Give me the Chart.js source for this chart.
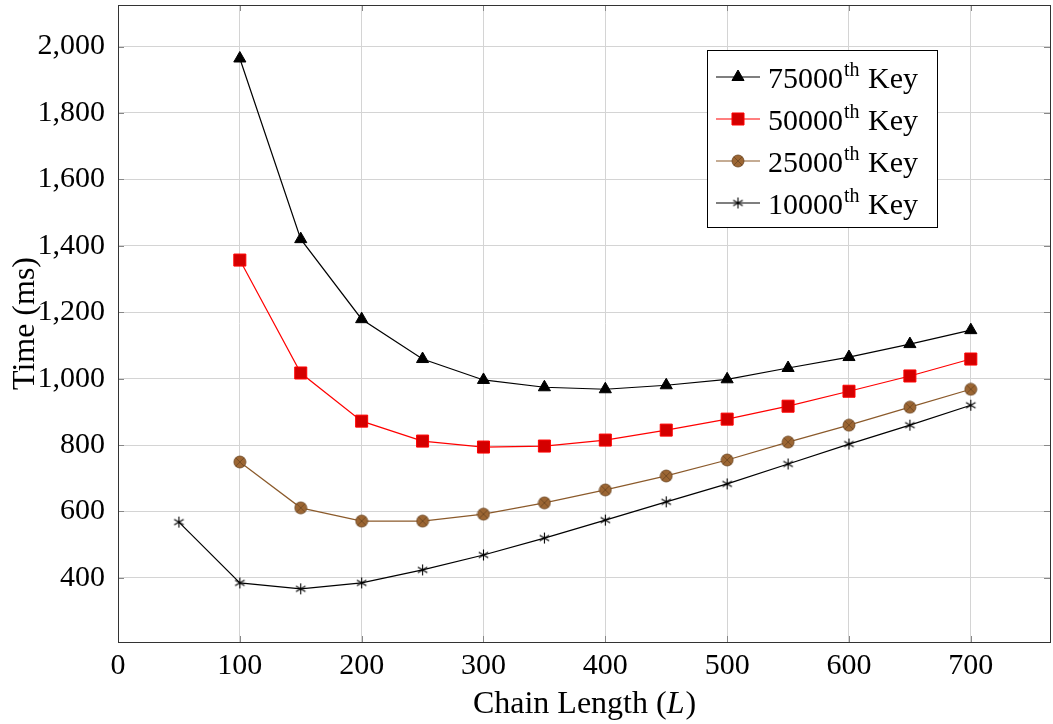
<!DOCTYPE html>
<html>
<head>
<meta charset="utf-8">
<script src="https://cdn.jsdelivr.net/npm/chart.js@4.4.0/dist/chart.umd.min.js"></script>
<style>
  html, body { margin: 0; padding: 0; background: #fff; }
  #wrap { width: 1053px; height: 724px; }
</style>
</head>
<body>
<div id="wrap"><canvas id="myChart" width="1053" height="724"></canvas></div>
<script>
  const chainLengths = [50, 100, 150, 200, 250, 300, 350, 400, 450, 500, 550, 600, 650, 700];
  const keyNames = ['75000', '50000', '25000', '10000'];
  const key75000 = [null, 1964, 1420, 1179, 1059, 996, 974, 968, 980, 998, 1032, 1065, 1104, 1146];
  const key50000 = [null, 1357, 1017, 872, 812, 794, 797, 815, 845, 878, 917, 962, 1008, 1059];
  const key25000 = [null, 749, 611, 571, 571, 592, 626, 665, 707, 755, 809, 860, 914, 968];
  const key10000 = [568, 385, 367, 385, 424, 469, 520, 574, 629, 683, 743, 803, 860, 920];
  const xTicks = [0, 100, 200, 300, 400, 500, 600, 700];
  const yTicks = [400, 600, 800, 1000, 1200, 1400, 1600, 1800, 2000];

  const serif = '"Liberation Serif", "DejaVu Serif", serif';

  // egyedi jelölők: kör x-szel, csillag (*)
  function otimesMark() {
    const c = document.createElement('canvas');
    c.width = 14; c.height = 14;
    const g = c.getContext('2d');
    g.beginPath();
    g.arc(7, 7, 6, 0, Math.PI * 2);
    g.fillStyle = '#9c6633';
    g.fill();
    g.strokeStyle = '#6b4522';
    g.lineWidth = 0.8;
    g.stroke();
    const d = 6 * Math.SQRT1_2;
    g.beginPath();
    g.moveTo(7 - d, 7 - d); g.lineTo(7 + d, 7 + d);
    g.moveTo(7 + d, 7 - d); g.lineTo(7 - d, 7 + d);
    g.stroke();
    return c;
  }
  function starMark() {
    const c = document.createElement('canvas');
    c.width = 13; c.height = 13;
    const g = c.getContext('2d');
    g.strokeStyle = '#000';
    g.lineWidth = 1.1;
    g.beginPath();
    for (let i = 0; i < 3; i++) {
      const a = -Math.PI / 2 + i * Math.PI / 3;
      g.moveTo(6.5 + 5.5 * Math.cos(a), 6.5 + 5.5 * Math.sin(a));
      g.lineTo(6.5 - 5.5 * Math.cos(a), 6.5 - 5.5 * Math.sin(a));
    }
    g.stroke();
    return c;
  }

  const pts = vals => chainLengths.map((x, i) => ({ x: x, y: vals[i] })).filter(p => p.y !== null);

  const datasets = [
    { label: keyNames[0], data: pts(key75000), borderColor: '#000', backgroundColor: '#000',
      pointStyle: 'triangle', pointRadius: 7, borderWidth: 1.2, pointBorderWidth: 1 },
    { label: keyNames[1], data: pts(key50000), borderColor: '#ff0000', backgroundColor: '#d40000',
      pointStyle: 'rect', pointRadius: 8.5, borderWidth: 1.2, pointBorderWidth: 1 },
    { label: keyNames[2], data: pts(key25000), borderColor: '#8b5a2b', backgroundColor: '#9c6633',
      pointStyle: otimesMark(), pointRadius: 7, borderWidth: 1.2 },
    { label: keyNames[3], data: pts(key10000), borderColor: '#000', backgroundColor: '#000',
      pointStyle: starMark(), pointRadius: 6, borderWidth: 1.2 }
  ];
  datasets.forEach(d => { d.fill = false; d.tension = 0; d.pointHoverRadius = d.pointRadius; });

  const boxPlugin = {
    id: 'box',
    afterDraw(chart) {
      const ctx = chart.ctx, a = chart.chartArea;
      const xs = chart.scales.x, ys = chart.scales.y;
      ctx.save();
      // belső osztásjelek
      ctx.strokeStyle = '#888';
      ctx.lineWidth = 1;
      ctx.beginPath();
      xTicks.forEach(v => {
        const px = Math.round(xs.getPixelForValue(v)) + 0.5;
        ctx.moveTo(px, a.bottom); ctx.lineTo(px, a.bottom - 6);
        ctx.moveTo(px, a.top); ctx.lineTo(px, a.top + 6);
      });
      yTicks.forEach(v => {
        const py = Math.round(ys.getPixelForValue(v)) + 0.5;
        ctx.moveTo(a.left, py); ctx.lineTo(a.left + 6, py);
        ctx.moveTo(a.right, py); ctx.lineTo(a.right - 6, py);
      });
      ctx.stroke();
      ctx.strokeStyle = '#333';
      ctx.strokeRect(Math.round(a.left) + 0.5, Math.round(a.top) + 0.5,
        Math.round(a.right - a.left), Math.round(a.bottom - a.top));

      // tengelyfeliratok
      ctx.fillStyle = '#000';
      ctx.textBaseline = 'alphabetic';
      const tf = '32px ' + serif;
      ctx.font = tf;
      const t1 = 'Chain Length (', t2 = 'L', t3 = ')';
      const w1 = ctx.measureText(t1).width, w3 = ctx.measureText(t3).width;
      ctx.font = 'italic ' + tf;
      const w2 = ctx.measureText(t2).width;
      let x0 = (a.left + a.right) / 2 - (w1 + w2 + w3) / 2;
      const by = 713;
      ctx.textAlign = 'left';
      ctx.font = tf;
      ctx.fillText(t1, x0, by);
      ctx.font = 'italic ' + tf;
      ctx.fillText(t2, x0 + w1, by);
      ctx.font = tf;
      ctx.fillText(t3, x0 + w1 + w2 + 1, by);

      ctx.save();
      ctx.translate(34, (a.top + a.bottom) / 2);
      ctx.rotate(-Math.PI / 2);
      ctx.textAlign = 'center';
      ctx.fillText('Time (ms)', 0, 0);
      ctx.restore();

      // jelmagyarázat
      const lx = 707, ly = 50, lw = 230, lh = 177;
      ctx.fillStyle = '#fff';
      ctx.fillRect(lx, ly, lw, lh);
      ctx.strokeStyle = '#000';
      ctx.lineWidth = 1;
      ctx.strokeRect(lx + 0.5, ly + 0.5, lw, lh);
      chart.data.datasets.forEach((ds, i) => {
        const cy = 77 + i * 42;
        ctx.strokeStyle = ds.borderColor;
        ctx.lineWidth = ds.borderWidth;
        ctx.beginPath();
        ctx.moveTo(716, cy); ctx.lineTo(760, cy);
        ctx.stroke();
        ctx.fillStyle = ds.backgroundColor;
        ctx.strokeStyle = ds.borderColor;
        ctx.lineWidth = ds.pointBorderWidth || 1;
        Chart.helpers.drawPoint(ctx, { pointStyle: ds.pointStyle, radius: ds.pointRadius, rotation: 0, borderWidth: 1 }, 738, cy);
        ctx.fillStyle = '#000';
        ctx.textAlign = 'left';
        ctx.font = '30px ' + serif;
        const base = cy + 11;
        ctx.fillText(ds.label, 768, base);
        const wn = ctx.measureText(ds.label).width;
        ctx.font = '20px ' + serif;
        ctx.fillText('th', 768 + wn + 1, base - 12);
        const ws = ctx.measureText('th').width;
        ctx.font = '30px ' + serif;
        ctx.fillText(' Key', 768 + wn + ws + 2, base);
      });
      ctx.restore();
    }
  };

  const config = {
    type: 'line',
    data: { datasets: datasets },
    options: {
      responsive: false,
      animation: false,
      layout: { autoPadding: false, padding: { top: 5, right: 3, left: 0, bottom: 0 } },
      plugins: { legend: { display: false }, tooltip: { enabled: false } },
      scales: {
        x: {
          type: 'linear', min: 0, max: 765,
          ticks: { stepSize: 100, color: '#000', font: { family: serif, size: 30 }, padding: 6 },
          afterBuildTicks: s => { s.ticks = xTicks.map(v => ({ value: v })); },
          afterFit: s => { s.height = 82; s.paddingLeft = 0; s.paddingRight = 0; },
          grid: { color: '#d4d4d4', lineWidth: 1, drawTicks: false },
          border: { display: false }
        },
        y: {
          type: 'linear', min: 207, max: 2125,
          ticks: { stepSize: 200, color: '#000', font: { family: serif, size: 30 }, padding: 13,
            callback: v => v.toLocaleString('en-US') },
          afterBuildTicks: s => { s.ticks = yTicks.map(v => ({ value: v })); },
          afterFit: s => { s.width = 118; s.paddingTop = 0; s.paddingBottom = 0; },
          grid: { color: '#d4d4d4', lineWidth: 1, drawTicks: false },
          border: { display: false }
        }
      }
    },
    plugins: [boxPlugin]
  };

  const ctx = document.getElementById('myChart');
  const myChart = new Chart(ctx, config);
</script>
</body>
</html>
